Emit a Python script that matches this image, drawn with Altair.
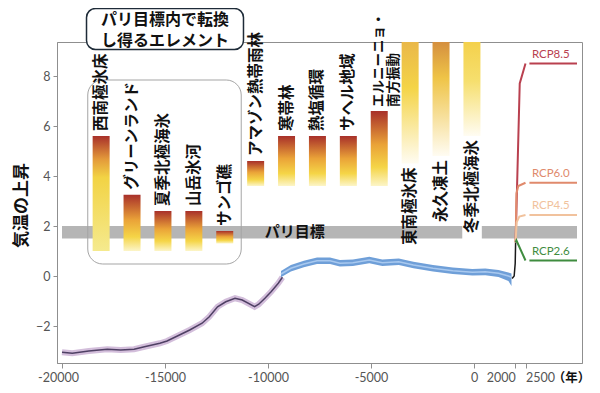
import altair as alt
import pandas as pd

FONT_JP = "Noto Sans CJK JP"
FONT_NUM = "Lato"

# ---------------- data ----------------
bar_names = ["西南極氷床", "グリーンランド", "夏季北極海氷", "山岳氷河", "サンゴ礁",
             "アマゾン熱帯雨林", "寒帯林", "熱塩循環", "サヘル地域", "エルニーニョ・\n南方振動",
             "東南極氷床", "永久凍土", "冬季北極海氷"]
bar_year = [-18100, -16600, -15100, -13600, -12100, -10600, -9100, -7600, -6100, -4600,
            -3100, -1600, -100]
bar_top = [5.6, 3.25, 2.6, 2.6, 1.8, 4.6, 5.6, 5.6, 5.6, 6.6, 10.0, 10.0, 10.0]
bar_bottom = [1.0, 1.0, 1.0, 1.0, 1.3, 3.6, 3.6, 3.6, 3.6, 3.6, 4.5, 4.8, 5.6]
bar_style = ["wais", "std", "std", "std", "std", "std", "std", "std", "std", "std",
             "eais", "perm", "winter"]
label_side = ["above"] * 10 + ["below"] * 3

purple_year = [-20000, -19500, -18700, -17800, -17150, -16500, -16000, -15250, -14900,
               -14300, -13800, -13200, -12850, -12450, -12050, -11600, -11250, -10650,
               -10450, -10150, -9850, -9500, -9300]
purple_temp = [-3.05, -3.09, -3.0, -2.93, -2.96, -2.93, -2.83, -2.69, -2.6, -2.36, -2.16,
               -1.89, -1.63, -1.23, -1.03, -0.89, -0.96, -1.23, -1.13, -0.89, -0.63,
               -0.29, -0.05]

blue_year = [-9370, -8890, -8260, -7620, -6990, -6510, -5880, -5080, -4450, -3650, -2940,
             -1990, -1030, -80, 550, 1190, 1670, 1820]
blue_temp = [0.08, 0.31, 0.48, 0.61, 0.61, 0.51, 0.53, 0.64, 0.53, 0.57, 0.44, 0.31, 0.21,
             0.15, 0.17, 0.11, 0.0, -0.05]
blue_low = [-0.05, 0.18, 0.35, 0.48, 0.48, 0.38, 0.40, 0.51, 0.40, 0.44, 0.31, 0.18, 0.08,
            0.02, 0.03, -0.04, -0.2, -0.4]
blue_high = [0.2, 0.44, 0.61, 0.74, 0.74, 0.64, 0.66, 0.77, 0.66, 0.70, 0.57, 0.44, 0.34,
             0.28, 0.30, 0.24, 0.14, 0.1]

hist_year = [1850, 1950, 2000, 2020]
hist_temp = [-0.1, 0.0, 0.5, 1.35]

rcp_names = ["RCP8.5", "RCP6.0", "RCP4.5", "RCP2.6"]
rcp_colors = ["#b9404f", "#e08a6c", "#f1c29d", "#3f8c3f"]
rcp_year = {
    "RCP8.5": [2020, 2220, 2500],
    "RCP6.0": [2020, 2060, 2150, 2500],
    "RCP4.5": [2020, 2070, 2200, 2500],
    "RCP2.6": [2020, 2060, 2500],
}
rcp_temp = {
    "RCP8.5": [1.35, 7.7, 8.5],
    "RCP6.0": [1.35, 3.3, 3.6, 3.73],
    "RCP4.5": [1.35, 2.15, 2.38, 2.44],
    "RCP2.6": [1.35, 1.42, 0.62],
}
rcp_final = [8.5, 3.73, 2.44, 0.62]
rcp_flat_year = [2690, 5000]
rcp_label_year = 2810

paris_low, paris_high = 1.5, 2.0
paris_text = "パリ目標"
paris_text_year, paris_text_temp = -8700, 1.75

group_box = {"x0": -18750, "x1": -11300, "y0": 0.48, "y1": 7.84}
title_text = "パリ目標内で転換\nし得るエレメント"
title_box = {"x0": -18810, "x1": -11190, "y0": 9.06, "y1": 10.7}
title_first_line_temp = 10.26
title_center_year = -15000

x_ticks = [-20000, -15000, -10000, -5000, 0, 2000, 2500]
y_ticks = [-2, 0, 2, 4, 6, 8]

# ---------------- frames ----------------
bars = pd.DataFrame({"name": bar_names, "year": bar_year, "top": bar_top,
                     "bottom": bar_bottom, "style": bar_style, "side": label_side})
purple = pd.DataFrame({"year": purple_year, "temp": purple_temp})
blue = pd.DataFrame({"year": blue_year, "temp": blue_temp, "lo": blue_low, "hi": blue_high})
hist = pd.DataFrame({"year": hist_year, "temp": hist_temp})

rows = []
for i, n in enumerate(rcp_names):
    for yr, t in zip(rcp_year[n], rcp_temp[n]):
        rows.append({"series": n, "seg": n + "a", "year": yr, "temp": t})
    for yr in rcp_flat_year:
        rows.append({"series": n, "seg": n + "b", "year": yr, "temp": rcp_final[i]})
rcp = pd.DataFrame(rows)
rcp_lab = pd.DataFrame({"series": rcp_names, "year": [rcp_label_year] * 4, "temp": rcp_final})

band = pd.DataFrame({"x0": [-20000], "x1": [5000], "y0": [paris_low], "y1": [paris_high]})
gap = pd.DataFrame({"x0": [bar_year[12] - 470], "x1": [bar_year[12] + 480],
                    "y0": [paris_low - 0.05], "y1": [paris_high + 0.05]})
gbox = pd.DataFrame([group_box])
tbox = pd.DataFrame([title_box])
tlines = pd.DataFrame({"t": [title_text], "year": [title_center_year],
                       "temp": [title_first_line_temp]})
ptext = pd.DataFrame({"t": [paris_text], "year": [paris_text_year], "temp": [paris_text_temp]})

# ---------------- scales / axes ----------------
xs = alt.Scale(domain=[-20000, 5000], nice=False, zero=False)
ys = alt.Scale(domain=[-3.48, 9.36], nice=False, zero=False)
xaxis = alt.Axis(values=x_ticks, title="（年）", grid=False,
                 labelExpr="'' + datum.value", labelOverlap=False, labelFlush=False,
                 labelFont=FONT_NUM, labelFontSize=12.5, labelColor="#555555",
                 labelPadding=3, tickSize=5, tickColor="#8f8f8f", domainColor="#8f8f8f",
                 labelAlign={"condition": [{"test": "datum.value == 2000", "value": "right"},
                                           {"test": "datum.value == 2500", "value": "left"}],
                             "value": "center"},
                 labelOffset={"condition": {"test": "datum.value == -20000", "value": -4},
                              "value": 0},
                 titleFont=FONT_JP, titleFontSize=12.5, titleFontWeight="bold",
                 titleColor="#111111", titleX=514, titleY=14.5, titleAlign="center",
                 titleBaseline="middle")
yaxis = alt.Axis(values=y_ticks, title="気温の上昇", grid=False,
                 labelFont=FONT_NUM, labelFontSize=12.5, labelColor="#555555",
                 labelPadding=3, tickSize=4, tickColor="#8f8f8f", domainColor="#8f8f8f",
                 titleFont=FONT_JP, titleFontSize=17, titleFontWeight="bold",
                 titleColor="#111111", titleAngle=270, titleX=-36, titleY=163,
                 titleAlign="center", titleBaseline="middle")


def X(f):
    return alt.X(f, type="quantitative", scale=xs, axis=xaxis)


def Y(f):
    return alt.Y(f, type="quantitative", scale=ys, axis=yaxis)


layers = []
layers.append(alt.Chart(band).mark_rect(color="#b5b5b5").encode(
    x=X("x0"), x2="x1", y=Y("y0"), y2="y1"))
layers.append(alt.Chart(gap).mark_rect(color="white").encode(
    x=X("x0"), x2="x1", y=Y("y0"), y2="y1"))
layers.append(alt.Chart(gbox).mark_rect(filled=False, color="#a5a5a5", strokeWidth=1,
                                        cornerRadius=15).encode(
    x=X("x0"), x2="x1", y=Y("y0"), y2="y1"))

gradients = {
    "wais": [(0, "#a8302a"), (0.2, "#e3993a"), (0.36, "#f2d344"), (1, "#f5ea8e")],
    "std": [(0, "#a8302a"), (0.45, "#eaa338"), (0.75, "#f5d547"), (1, "#fcf5c8")],
    "eais": [(0, "#e6ae4a"), (0.45, "#f4d447"), (1, "#fffcf2")],
    "perm": [(0, "#c9783c"), (0.4, "#efc447"), (1, "#fffcf2")],
    "winter": [(0, "#f3cb3e"), (0.5, "#f6df6e"), (1, "#fffcf2")],
}
for st, stops in gradients.items():
    grad = alt.Gradient(gradient="linear",
                        stops=[alt.GradientStop(offset=o, color=c) for o, c in stops],
                        x1=0, x2=0, y1=0, y2=1)
    layers.append(alt.Chart(bars).transform_filter(alt.datum.style == st)
                  .mark_bar(size=17, fill=grad, clip=True)
                  .encode(x=X("year"), y=Y("top"), y2="bottom"))

# curves
layers.append(alt.Chart(purple).mark_line(color="#d3bedb", strokeWidth=6).encode(
    x=X("year"), y=Y("temp")))
layers.append(alt.Chart(purple).mark_line(color="#4f4064", strokeWidth=1.5).encode(
    x=X("year"), y=Y("temp")))
layers.append(alt.Chart(blue).mark_area(color="#6f9fd8").encode(
    x=X("year"), y=Y("lo"), y2="hi"))
layers.append(alt.Chart(blue).mark_line(color="#a9c9ef", strokeWidth=1.5).encode(
    x=X("year"), y=Y("temp")))
layers.append(alt.Chart(hist).mark_line(color="#1a1a1a", strokeWidth=1.5).encode(
    x=X("year"), y=Y("temp")))

rcp_color = alt.Color("series:N", scale=alt.Scale(domain=rcp_names, range=rcp_colors),
                      legend=None)
layers.append(alt.Chart(rcp).mark_line(strokeWidth=2).encode(
    x=X("year"), y=Y("temp"), color=rcp_color, detail="seg:N"))
layers.append(alt.Chart(rcp_lab).mark_text(align="left", baseline="middle", dy=-9,
                                           font=FONT_NUM, fontSize=11.5).encode(
    x=X("year"), y=Y("temp"), text="series:N", color=rcp_color))

# bar labels
one_line = "indexof(datum.name, '\\n') < 0"
two_line = "indexof(datum.name, '\\n') >= 0"
layers.append(alt.Chart(bars).transform_filter(alt.datum.side == "above")
              .transform_filter(one_line)
              .mark_text(angle=270, align="left", baseline="middle", dx=5, font=FONT_JP,
                         fontSize=15.5, fontWeight="bold", color="#111111")
              .encode(x=X("year"), y=Y("top"), text="name:N"))
layers.append(alt.Chart(bars).transform_filter(alt.datum.side == "above")
              .transform_filter(two_line)
              .mark_text(angle=270, align="left", baseline="middle", dx=4, font=FONT_JP,
                         fontSize=13.5, lineHeight=15, fontWeight="bold", lineBreak="\n",
                         color="#111111")
              .encode(x=X("year"), y=Y("top"), text="name:N"))
layers.append(alt.Chart(bars).transform_filter(alt.datum.side == "below")
              .mark_text(angle=270, align="right", baseline="middle", dx=-4, font=FONT_JP,
                         fontSize=15.5, fontWeight="bold", color="#111111")
              .encode(x=X("year"), y=Y("bottom"), text="name:N"))

layers.append(alt.Chart(ptext).mark_text(font=FONT_JP, fontSize=15, fontWeight="bold",
                                         color="#111111", baseline="middle").encode(
    x=X("year"), y=Y("temp"), text="t:N"))

# title box
layers.append(alt.Chart(tbox).mark_rect(fill="white", stroke="#1e2b38", strokeWidth=1.5,
                                        cornerRadius=9).encode(
    x=X("x0"), x2="x1", y=Y("y0"), y2="y1"))
layers.append(alt.Chart(tlines).mark_text(font=FONT_JP, fontSize=16, fontWeight="bold",
                                          color="#111111", baseline="middle",
                                          lineBreak="\n", lineHeight=21).encode(
    x=X("year"), y=Y("temp"), text="t:N"))

chart = alt.layer(*layers).properties(
    width=525, height=321,
    autosize=alt.AutoSizeParams(type="none"),
    padding={"left": 49, "top": 34, "right": 10, "bottom": 22},
).configure_view(stroke="#8f8f8f", strokeWidth=1)

chart.save("out.html", embed_options={"renderer": "svg", "actions": False})
